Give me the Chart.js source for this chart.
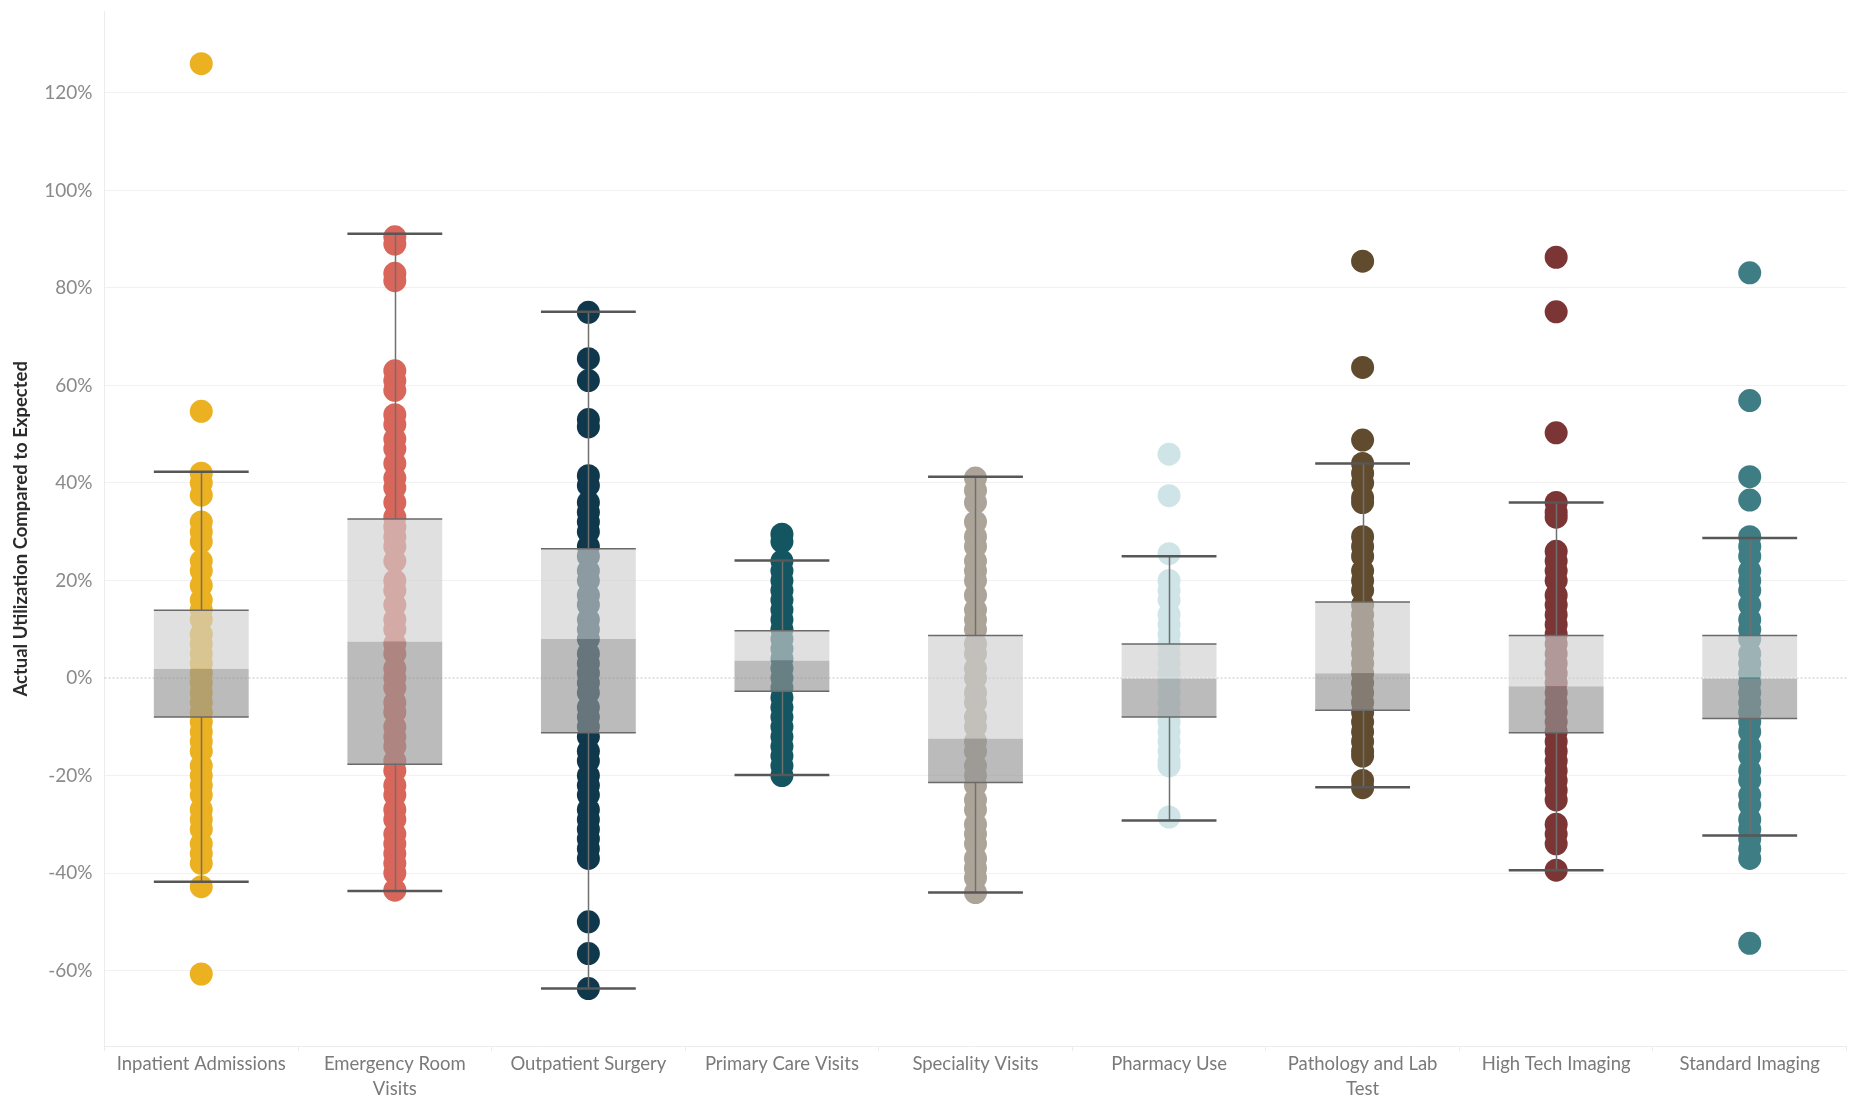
<!DOCTYPE html>
<html>
<head>
<meta charset="utf-8">
<title>Actual Utilization Compared to Expected</title>
<script src="https://cdn.jsdelivr.net/npm/chart.js@4.4.1/dist/chart.umd.min.js"></script>
<style>
  html, body { margin: 0; padding: 0; background: #fff; }
  #wrap { width: 1858px; height: 1099px; position: relative; }
</style>
</head>
<body>
<div id="wrap"><canvas id="utilChart"></canvas></div>
<script>
// Categories and the (wrapped) tick labels shown under them
const categories = [
  "Inpatient Admissions",
  "Emergency Room Visits",
  "Outpatient Surgery",
  "Primary Care Visits",
  "Speciality Visits",
  "Pharmacy Use",
  "Pathology and Lab Test",
  "High Tech Imaging",
  "Standard Imaging"
];
const tickLabels = [
  "Inpatient Admissions",
  ["Emergency Room", "Visits"],
  "Outpatient Surgery",
  "Primary Care Visits",
  "Speciality Visits",
  "Pharmacy Use",
  ["Pathology and Lab", "Test"],
  "High Tech Imaging",
  "Standard Imaging"
];

const dotColors = ["#ecb120", "#d9665a", "#0f384d", "#135560", "#aca498", "#cfe4e7", "#614b2e", "#7c3535", "#3e7d84"];

// Actual utilization vs expected (%), one value per member
const inpatient = [126, 54.7, 42, 40, 37.5, 32, 30, 28, 24, 22, 19, 16, 14, 12, 9, 7, 5, 3, 1, -1, -3, -5, -7, -9, -11, -13, -15, -18, -20, -22, -24, -27, -29, -31, -34, -36, -38, -42.8, -60.7];
const emergency = [90.5, 89, 83, 81.5, 63, 61, 59, 54, 52, 49, 47, 44, 41, 39, 36, 33, 31, 29, 27, 24, 20, 18, 15, 12, 10, 7, 5, 2, 0, -2, -5, -7, -10, -12, -14, -17, -19, -22, -24, -27, -29, -32, -34, -36, -38, -40, -43.5];
const outpatient = [75, 65.5, 61, 53, 51.5, 41.5, 39.5, 36, 34, 32, 30, 27, 25, 22, 20, 17, 15, 12, 10, 8, 5, 3, 1, -1, -3, -6, -8, -10, -12, -15, -17, -20, -22, -24, -27, -29, -31, -33, -35, -37, -50, -56.5, -63.7];
const primaryCare = [29.5, 28, 24, 22, 20, 18, 16, 14, 12, 10, 8, 6, 4, 2, 0, -2, -4, -6, -8, -10, -12, -14, -16, -18, -20];
const speciality = [41, 38.5, 36, 32, 29, 27, 24, 22, 20, 17, 14, 12, 10, 7, 5, 2, 0, -3, -5, -8, -10, -13, -15, -18, -20, -22, -25, -27, -30, -32, -34, -37, -39, -41, -44];
const pharmacy = [45.9, 37.4, 25.5, 20, 18, 16, 13, 11, 9, 7, 5, 3, 1, -1, -3, -5, -7, -9, -11, -13, -15, -17, -18, -28.5];
const pathology = [85.5, 63.7, 48.8, 44, 42, 40, 37, 36, 29, 27, 25, 22, 20, 18, 15, 13, 11, 9, 7, 5, 3, 1, -1, -3, -5, -7, -9, -11, -13, -15, -16, -21, -22.5];
const highTech = [86.3, 75.1, 50.3, 36, 34, 33, 26, 24, 22, 20, 17, 15, 13, 11, 9, 7, 5, 3, 1, -1, -3, -5, -7, -9, -11, -13, -15, -17, -19, -21, -23, -25, -30, -32, -34, -39.4];
const standard = [83.1, 56.9, 41.3, 36.5, 29, 27, 25, 22, 20, 18, 15, 12, 10, 8, 5, 3, 1, -1, -3, -5, -7, -9, -11, -14, -16, -19, -21, -24, -26, -29, -31, -33, -35, -37, -54.4];

const seriesValues = [inpatient, emergency, outpatient, primaryCare, speciality, pharmacy, pathology, highTech, standard];

// Box plot summary per category (%)
const whiskerHigh = [42.3, 91.1, 75.1, 24.1, 41.3, 25.0, 44.0, 36.0, 28.7];
const q3 = [13.9, 32.6, 26.5, 9.7, 8.7, 7.0, 15.6, 8.7, 8.7];
const median = [1.9, 7.5, 8.0, 3.6, -12.4, 0, 1.0, -1.7, 0];
const q1 = [-8.0, -17.7, -11.2, -2.7, -21.4, -8.0, -6.6, -11.2, -8.3];
const whiskerLow = [-41.8, -43.7, -63.7, -19.9, -44.0, -29.2, -22.4, -39.4, -32.3];

const yTickValues = [-60, -40, -20, 0, 20, 40, 60, 80, 100, 120];

// dot datasets
const dotSets = seriesValues.map((vals, i) => ({
  type: "scatter",
  label: "dots" + i,
  data: vals.map(v => ({ x: categories[i], y: v })),
  backgroundColor: dotColors[i],
  borderWidth: 0,
  pointRadius: 11.5,
  pointHoverRadius: 11.5,
  order: 2
}));

const boxSets = [
  {
    type: "bar",
    label: "upper",
    data: q3.map((v, i) => [median[i], v]),
    backgroundColor: "rgba(208,208,208,0.65)",
    grouped: false,
    categoryPercentage: 1,
    barPercentage: 0.49,
    borderSkipped: false,
    borderWidth: 0,
    order: 1
  },
  {
    type: "bar",
    label: "lower",
    data: q1.map((v, i) => [v, median[i]]),
    backgroundColor: "rgba(151,151,151,0.65)",
    grouped: false,
    categoryPercentage: 1,
    barPercentage: 0.49,
    borderSkipped: false,
    borderWidth: 0,
    order: 1
  }
];

// zero reference line + whiskers
const boxLines = {
  id: "boxLines",
  beforeDatasetsDraw(chart) {
    const { ctx, chartArea, scales: { y } } = chart;
    const y0 = y.getPixelForValue(0);
    ctx.save();
    ctx.strokeStyle = "#c4c4c4";
    ctx.lineWidth = 1;
    ctx.setLineDash([2, 2]);
    ctx.beginPath();
    ctx.moveTo(chartArea.left, y0);
    ctx.lineTo(chartArea.right, y0);
    ctx.stroke();
    ctx.restore();
  },
  afterDatasetsDraw(chart) {
    const { ctx, scales: { y } } = chart;
    const idx = chart.data.datasets.findIndex(d => d.label === "upper");
    const bars = chart.getDatasetMeta(idx).data;
    ctx.save();
    bars.forEach((bar, i) => {
      const cx = Math.round(bar.x) + 0.5;
      const half = bar.width / 2;
      const yHi = y.getPixelForValue(whiskerHigh[i]);
      const yQ3 = y.getPixelForValue(q3[i]);
      const yQ1 = y.getPixelForValue(q1[i]);
      const yLo = y.getPixelForValue(whiskerLow[i]);

      // whisker stems
      ctx.strokeStyle = "#707070";
      ctx.lineWidth = 1.5;
      ctx.beginPath();
      ctx.moveTo(cx, yHi); ctx.lineTo(cx, yQ3);
      ctx.moveTo(cx, yQ1); ctx.lineTo(cx, yLo);
      ctx.stroke();

      // box edges
      ctx.strokeStyle = "#6a6a6a";
      ctx.lineWidth = 1.5;
      ctx.beginPath();
      ctx.moveTo(bar.x - half, yQ3); ctx.lineTo(bar.x + half, yQ3);
      ctx.moveTo(bar.x - half, yQ1); ctx.lineTo(bar.x + half, yQ1);
      ctx.stroke();

      // caps
      ctx.strokeStyle = "#575757";
      ctx.lineWidth = 2.5;
      ctx.beginPath();
      ctx.moveTo(bar.x - half, yHi); ctx.lineTo(bar.x + half, yHi);
      ctx.moveTo(bar.x - half, yLo); ctx.lineTo(bar.x + half, yLo);
      ctx.stroke();
    });
    ctx.restore();
  }
};

const ctx = document.getElementById("utilChart").getContext("2d");
new Chart(ctx, {
  type: "bar",
  data: {
    labels: categories,
    datasets: [...dotSets, ...boxSets]
  },
  options: {
    responsive: true,
    maintainAspectRatio: false,
    animation: false,
    layout: { padding: { top: 4, right: 9, left: 10, bottom: -3 } },
    plugins: {
      legend: { display: false },
      tooltip: { enabled: false }
    },
    scales: {
      x: {
        type: "category",
        offset: true,
        grid: {
          offset: true,
          drawOnChartArea: false,
          color: "#ececec",
          tickLength: 5
        },
        border: { color: "#ececec" },
        ticks: {
          autoSkip: false,
          maxRotation: 0,
          minRotation: 0,
          color: "#7a7a7a",
          padding: 1,
          font: { family: "Lato", size: 18.5, lineHeight: 1.32 },
          callback: (v, i) => tickLabels[i]
        }
      },
      y: {
        min: -75.5,
        max: 136.7,
        afterBuildTicks(scale) {
          scale.ticks = yTickValues.map(v => ({ value: v }));
        },
        afterFit(scale) {
          // top tick sits well below the max, so no label room is needed
          scale.paddingTop = 0;
        },
        grid: {
          color: c => (c.tick && c.tick.value === 0 ? "rgba(0,0,0,0)" : "#f1f1f1"),
          drawTicks: false
        },
        border: { color: "#ececec" },
        ticks: {
          color: "#8a8a8a",
          padding: 12,
          font: { family: "Lato", size: 19 },
          callback: v => v + "%"
        },
        title: {
          display: true,
          text: "Actual Utilization Compared to Expected",
          color: "#2b2b2b",
          padding: { top: 0, bottom: 0 },
          font: { family: "Lato", size: 18.5, weight: "bold" }
        }
      }
    }
  },
  plugins: [boxLines]
});
</script>
</body>
</html>
